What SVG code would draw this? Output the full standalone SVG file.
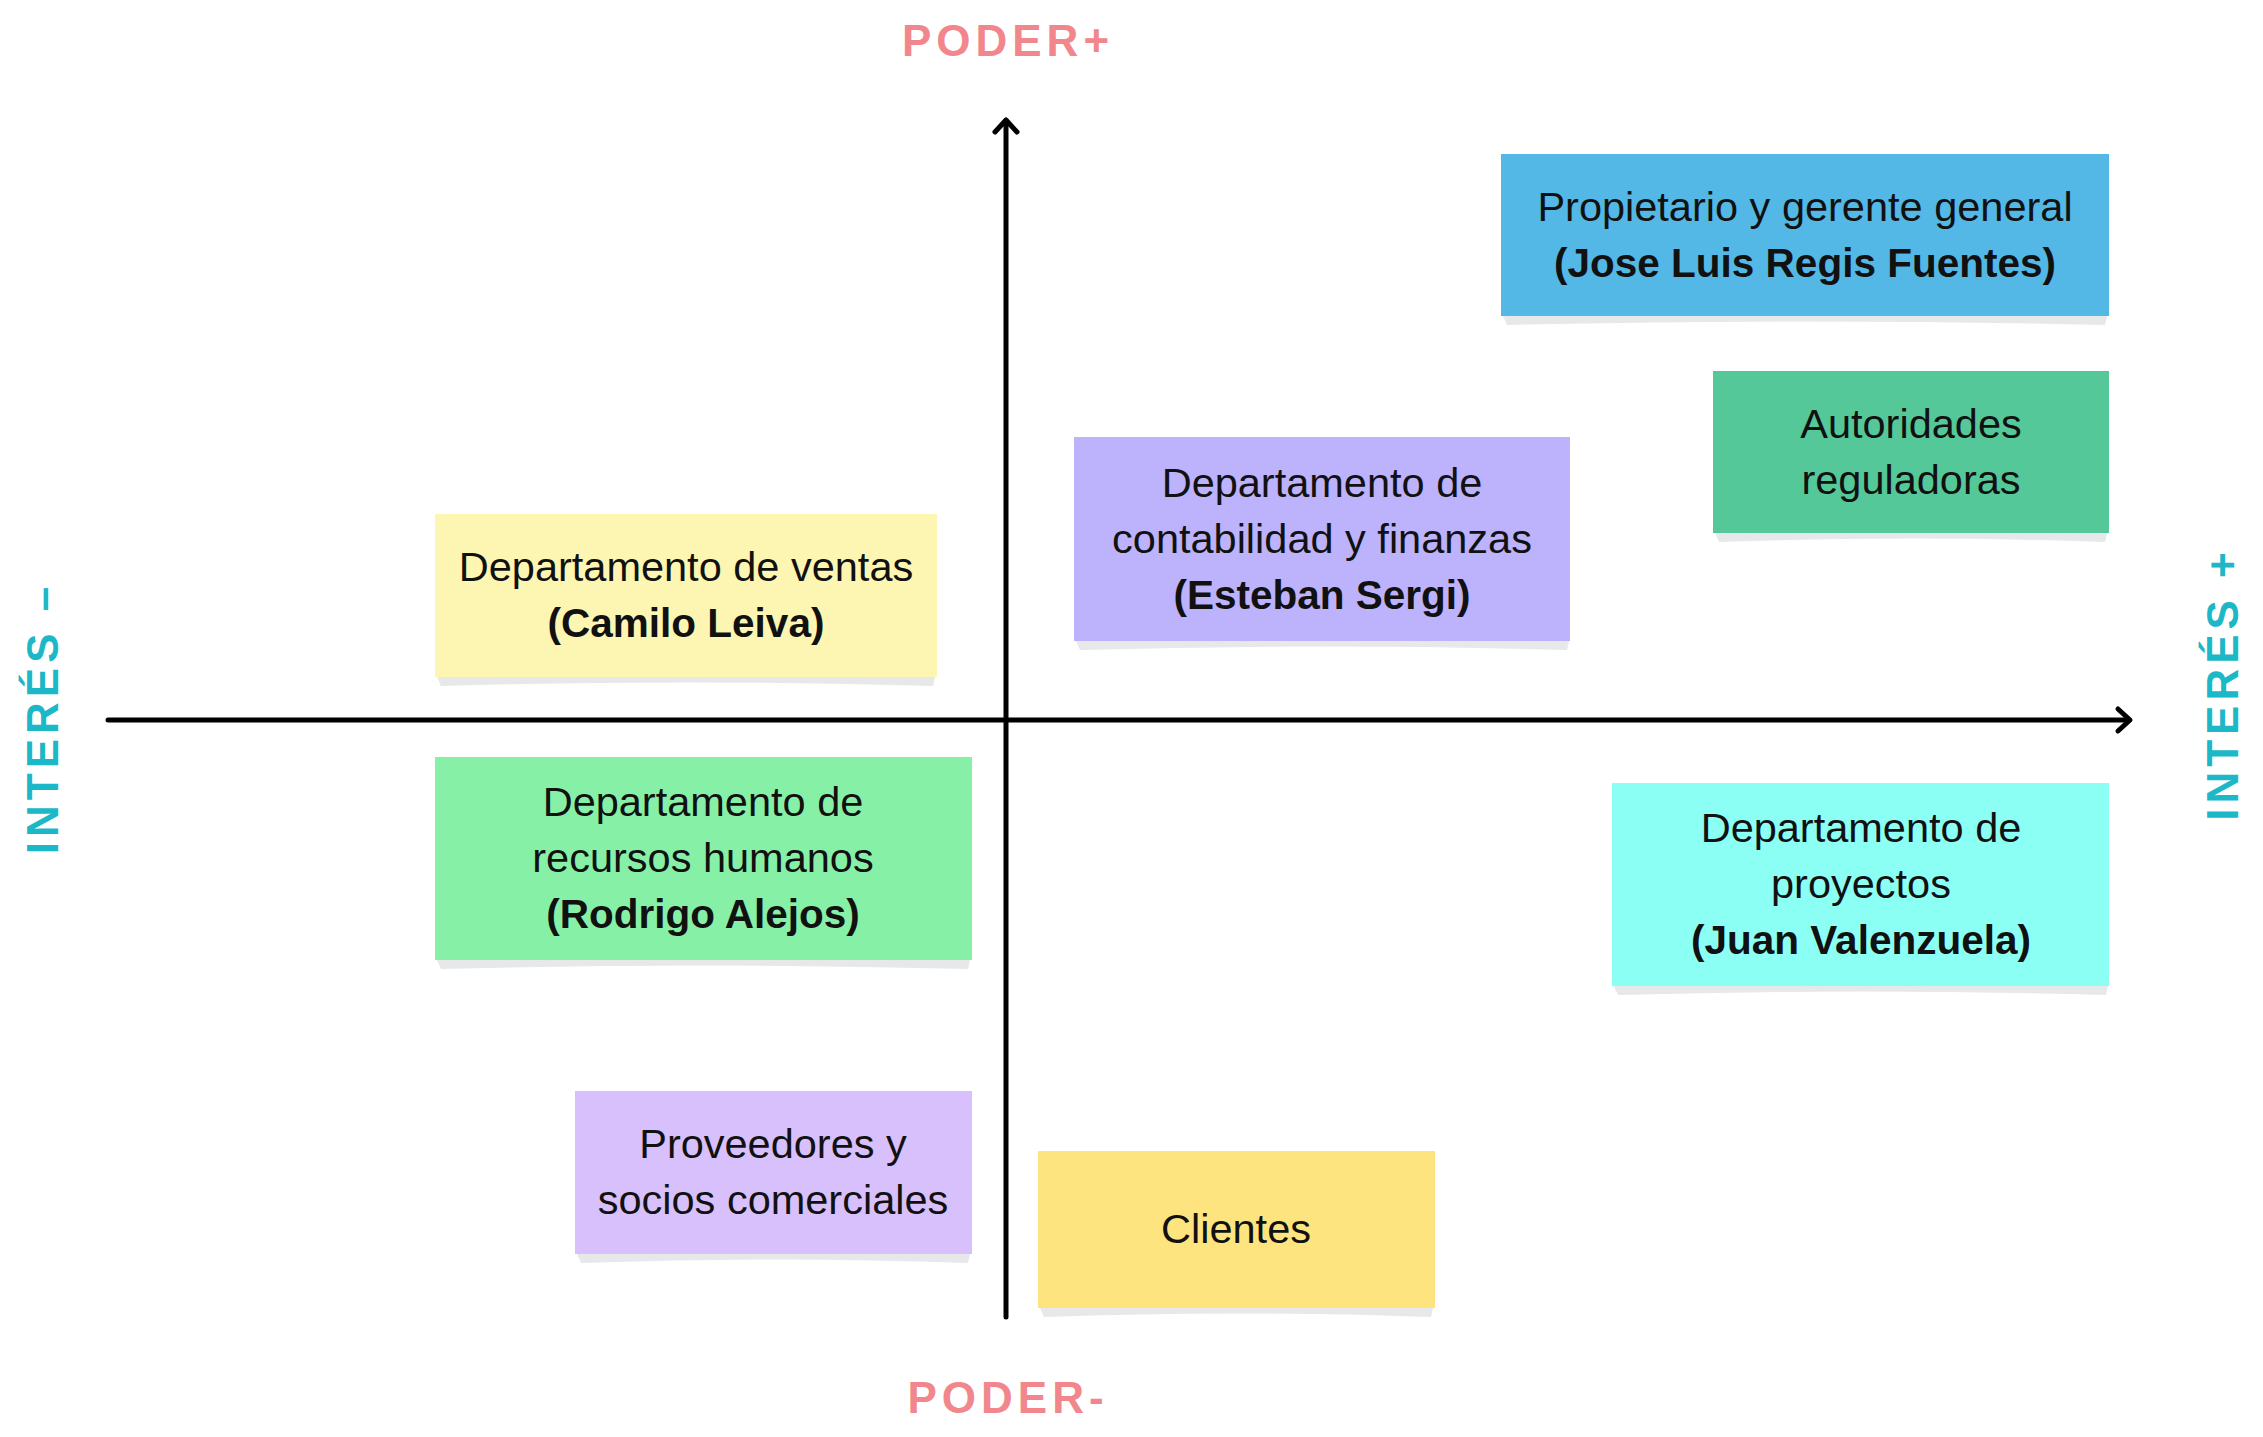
<svg xmlns="http://www.w3.org/2000/svg" width="2263" height="1437" viewBox="0 0 2263 1437">
<style>
.bg{fill:#ffffff}
.sh{fill:#e7e8ea}
.t{font-family:"Liberation Sans",Arial,sans-serif;font-size:41.5px;fill:#111111;text-anchor:middle}
.b{font-weight:bold;font-size:40.5px}
.axis{stroke:#000000;stroke-width:5;fill:none;stroke-linecap:round;stroke-linejoin:round}
.lbl{font-family:"Liberation Sans",Arial,sans-serif;font-weight:bold;font-size:44px;letter-spacing:5px;text-anchor:middle}
.pk{fill:#f1878c}
.tl{fill:#1db8c7}
</style>
<rect class="bg" x="0" y="0" width="2263" height="1437"/>

<g id="connectors">
  <path class="axis" d="M1006,1317 L1006,121"/>
  <path class="axis" d="M995,132 L1006,120 L1017,132"/>
  <path class="axis" d="M108,720 L2128,720"/>
  <path class="axis" d="M2118,709 L2130,720 L2118,731"/>
</g>

<g id="labels">
  <text class="lbl pk" x="1008" y="56">PODER+</text>
  <text class="lbl pk" x="1008" y="1413">PODER-</text>
  <text class="lbl tl" transform="translate(58,720) rotate(-90)" x="2" y="0">INTERÉS –</text>
  <text class="lbl tl" transform="translate(2238,686) rotate(-90)" x="2" y="0">INTERÉS +</text>
</g>

<g id="propietario">
  <path class="sh" d="M1503,316 L2107,316 L2105,325 Q1805,318 1507,325 Z"/>
  <rect x="1501" y="154" width="608" height="162" fill="#53b8e6"/>
  <text class="t" x="1805" y="221">Propietario y gerente general</text>
  <text class="t b" x="1805" y="277">(Jose Luis Regis Fuentes)</text>
</g>

<g id="autoridades">
  <path class="sh" d="M1715,533 L2107,533 L2105,542 Q1911,535 1719,542 Z"/>
  <rect x="1713" y="371" width="396" height="162" fill="#55c89a"/>
  <text class="t" x="1911" y="438">Autoridades</text>
  <text class="t" x="1911" y="494">reguladoras</text>
</g>

<g id="contabilidad">
  <path class="sh" d="M1076,641 L1569,641 L1567,650 Q1322,643 1080,650 Z"/>
  <rect x="1074" y="437" width="496" height="204" fill="#bdb2fc"/>
  <text class="t" x="1322" y="497">Departamento de</text>
  <text class="t" x="1322" y="553">contabilidad y finanzas</text>
  <text class="t b" x="1322" y="609">(Esteban Sergi)</text>
</g>

<g id="ventas">
  <path class="sh" d="M437,677 L935,677 L933,686 Q686,679 441,686 Z"/>
  <rect x="435" y="514" width="502" height="163" fill="#fdf6b2"/>
  <text class="t" x="686" y="581">Departamento de ventas</text>
  <text class="t b" x="686" y="637">(Camilo Leiva)</text>
</g>

<g id="rrhh">
  <path class="sh" d="M437,960 L970,960 L968,969 Q703,962 441,969 Z"/>
  <rect x="435" y="757" width="537" height="203" fill="#87f0a7"/>
  <text class="t" x="703" y="816">Departamento de</text>
  <text class="t" x="703" y="872">recursos humanos</text>
  <text class="t b" x="703" y="928">(Rodrigo Alejos)</text>
</g>

<g id="proyectos">
  <path class="sh" d="M1614,986 L2108,986 L2106,995 Q1861,988 1618,995 Z"/>
  <rect x="1612" y="783" width="497" height="203" fill="#8cfff5"/>
  <text class="t" x="1861" y="842">Departamento de</text>
  <text class="t" x="1861" y="898">proyectos</text>
  <text class="t b" x="1861" y="954">(Juan Valenzuela)</text>
</g>

<g id="proveedores">
  <path class="sh" d="M577,1254 L970,1254 L968,1263 Q773,1256 581,1263 Z"/>
  <rect x="575" y="1091" width="397" height="163" fill="#d8c0fc"/>
  <text class="t" x="773" y="1158">Proveedores y</text>
  <text class="t" x="773" y="1214">socios comerciales</text>
</g>

<g id="clientes">
  <path class="sh" d="M1040,1308 L1433,1308 L1431,1317 Q1236,1310 1044,1317 Z"/>
  <rect x="1038" y="1151" width="397" height="157" fill="#fde47e"/>
  <text class="t" x="1236" y="1243">Clientes</text>
</g>
</svg>
